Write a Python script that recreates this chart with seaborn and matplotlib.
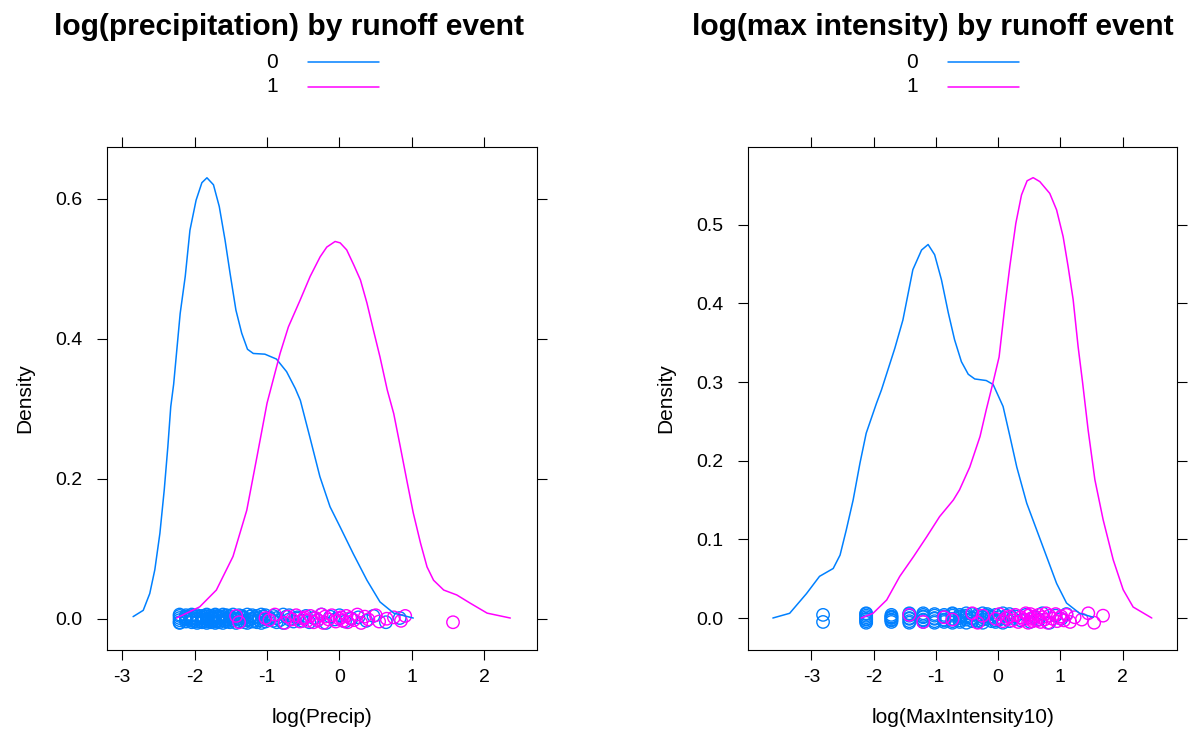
import numpy as np
import pandas as pd
import seaborn as sns
import matplotlib.pyplot as plt

# density curves (x, density)
precip0_x = [-2.85, -2.71, -2.62, -2.55, -2.48, -2.42, -2.37, -2.33, -2.29, -2.20, -2.13, -2.065, -1.98, -1.90,
             -1.83, -1.74, -1.66, -1.58, -1.51, -1.43, -1.35, -1.27, -1.19, -1.03, -0.87, -0.73, -0.61, -0.54,
             -0.41, -0.27, -0.13, 0.01, 0.19, 0.38, 0.56, 0.75, 1.02]
precip0_y = [0.003, 0.012, 0.036, 0.07, 0.122, 0.184, 0.246, 0.303, 0.335, 0.436, 0.489, 0.555, 0.598, 0.623,
             0.630, 0.620, 0.589, 0.541, 0.493, 0.441, 0.408, 0.385, 0.379, 0.378, 0.371, 0.353, 0.329, 0.312,
             0.26, 0.203, 0.16, 0.131, 0.093, 0.055, 0.024, 0.008, 0.001]
precip1_x = [-2.25, -1.93, -1.70, -1.47, -1.28, -1.14, -1.00, -0.82, -0.705, -0.544, -0.405, -0.267, -0.175,
             -0.06, 0.01, 0.10, 0.20, 0.29, 0.38, 0.47, 0.56, 0.66, 0.75, 0.84, 0.93, 1.02, 1.12, 1.21, 1.30,
             1.44, 1.62, 1.81, 2.04, 2.36]
precip1_y = [0.001, 0.017, 0.041, 0.089, 0.155, 0.231, 0.308, 0.379, 0.417, 0.455, 0.489, 0.517, 0.531,
             0.539, 0.537, 0.527, 0.505, 0.484, 0.451, 0.412, 0.374, 0.327, 0.293, 0.246, 0.198, 0.151, 0.108,
             0.074, 0.055, 0.041, 0.034, 0.022, 0.008, 0.001]
inten0_x = [-3.62, -3.35, -3.08, -2.87, -2.65, -2.54, -2.44, -2.33, -2.22, -2.12, -1.955, -1.875, -1.66, -1.53,
            -1.37, -1.23, -1.125, -1.02, -0.91, -0.80, -0.70, -0.59, -0.48, -0.375, -0.19, -0.08, 0.08, 0.19,
            0.30, 0.46, 0.62, 0.78, 0.94, 1.10, 1.31, 1.53]
inten0_y = [0.0, 0.006, 0.031, 0.053, 0.063, 0.08, 0.112, 0.15, 0.197, 0.235, 0.273, 0.290, 0.343, 0.379,
            0.443, 0.468, 0.475, 0.462, 0.430, 0.388, 0.354, 0.326, 0.310, 0.304, 0.302, 0.297, 0.269, 0.231,
            0.192, 0.146, 0.112, 0.078, 0.044, 0.019, 0.006, 0.001]
inten1_x = [-2.20, -2.01, -1.79, -1.58, -1.36, -1.15, -0.94, -0.72, -0.62, -0.455, -0.29, -0.19, -0.08, 0.016,
            0.108, 0.188, 0.285, 0.376, 0.466, 0.563, 0.67, 0.83, 0.94, 1.045, 1.125, 1.206, 1.286, 1.357,
            1.447, 1.555, 1.688, 1.85, 2.01, 2.17, 2.47]
inten1_y = [0.0, 0.006, 0.023, 0.053, 0.078, 0.103, 0.129, 0.150, 0.163, 0.192, 0.231, 0.265, 0.300, 0.332,
            0.396, 0.447, 0.502, 0.538, 0.556, 0.560, 0.555, 0.540, 0.519, 0.485, 0.447, 0.405, 0.345, 0.300,
            0.239, 0.176, 0.125, 0.074, 0.036, 0.014, 0.0]

# raw observations (rug points), plotted on log scale
precip0 = [0.11, 0.11, 0.11, 0.11, 0.11, 0.11, 0.12, 0.12, 0.12, 0.12, 0.12, 0.12,
           0.13, 0.13, 0.13, 0.13, 0.13, 0.13, 0.14, 0.14, 0.14, 0.14, 0.14, 0.14,
           0.15, 0.15, 0.15, 0.15, 0.15, 0.15, 0.16, 0.16, 0.16, 0.16, 0.16, 0.16, 0.16,
           0.17, 0.17, 0.17, 0.17, 0.17, 0.17, 0.18, 0.18, 0.18, 0.18, 0.18, 0.18,
           0.19, 0.19, 0.19, 0.19, 0.19, 0.20, 0.20, 0.20, 0.20, 0.20, 0.21, 0.21, 0.21, 0.21,
           0.22, 0.22, 0.22, 0.22, 0.23, 0.23, 0.23, 0.24, 0.24, 0.24, 0.25, 0.25, 0.25,
           0.26, 0.26, 0.26, 0.27, 0.27, 0.28, 0.28, 0.28, 0.29, 0.29, 0.30, 0.30, 0.30,
           0.31, 0.31, 0.32, 0.32, 0.33, 0.33, 0.34, 0.34, 0.35, 0.35, 0.36, 0.36, 0.38, 0.38,
           0.40, 0.40, 0.42, 0.42, 0.44, 0.46, 0.46, 0.48, 0.50, 0.50, 0.53, 0.56, 0.56, 0.60,
           0.63, 0.66, 0.70, 0.74, 0.78, 0.83, 0.88, 0.94, 1.00, 1.08, 1.18, 1.30, 1.45, 1.60, 1.90, 2.30]
precip1 = [0.24, 0.25, 0.36, 0.38, 0.41, 0.47, 0.49, 0.52, 0.55, 0.58, 0.61, 0.62, 0.64, 0.67, 0.70, 0.72,
           0.74, 0.78, 0.80, 0.82, 0.86, 0.90, 0.95, 1.00, 1.02, 1.05, 1.10, 1.12, 1.16, 1.22, 1.28, 1.35,
           1.42, 1.49, 1.65, 1.73, 1.92, 2.12, 2.34, 2.48, 4.80]
inten0 = [0.06, 0.06, 0.12, 0.12, 0.12, 0.12, 0.12, 0.12, 0.12, 0.12,
          0.18, 0.18, 0.18, 0.18, 0.18, 0.18, 0.18, 0.24, 0.24, 0.24, 0.24, 0.24, 0.24, 0.24,
          0.30, 0.30, 0.30, 0.30, 0.30, 0.30, 0.30, 0.36, 0.36, 0.36, 0.36, 0.36, 0.36,
          0.42, 0.42, 0.42, 0.42, 0.42, 0.42, 0.48, 0.48, 0.48, 0.48, 0.48, 0.48,
          0.54, 0.54, 0.54, 0.54, 0.54, 0.60, 0.60, 0.60, 0.60, 0.60, 0.66, 0.66, 0.66, 0.66,
          0.72, 0.72, 0.72, 0.72, 0.78, 0.78, 0.78, 0.78, 0.84, 0.84, 0.84, 0.90, 0.90, 0.90,
          0.96, 0.96, 0.96, 1.02, 1.02, 1.08, 1.08, 1.14, 1.14, 1.20, 1.20, 1.26, 1.32, 1.44,
          1.56, 1.68, 1.80, 1.92, 2.04, 2.28, 2.52, 2.76, 3.00]
inten1 = [0.24, 0.30, 0.42, 0.48, 0.66, 0.72, 0.78, 0.96, 1.02, 1.08, 1.14, 1.20, 1.26, 1.32, 1.38, 1.44,
          1.50, 1.56, 1.62, 1.62, 1.68, 1.68, 1.74, 1.74, 1.80, 1.86, 1.92, 1.98, 2.04, 2.10, 2.16, 2.22,
          2.28, 2.40, 2.52, 2.58, 2.70, 2.76, 2.88, 3.00, 3.18, 3.42, 3.84, 4.26, 4.68, 5.40]

groups = ["0", "1"]
colors = {"0": "#0080ff", "1": "#ff00ff"}
# fixed vertical jitter pattern for the rug points
jitter = [0.004, -0.005, 0.001, -0.002, 0.006, -0.006, 0.003, -0.001, 0.005, -0.004, 0.0, 0.002, -0.003]

sns.set_style("ticks")
plt.rcParams['font.family'] = ['Liberation Sans', 'DejaVu Sans']
plt.rcParams['text.color'] = 'black'
plt.rcParams['axes.labelcolor'] = 'black'

fig = plt.figure(figsize=(11.88, 7.39), dpi=100)
ax1 = fig.add_axes([0.0901, 0.1204, 0.3620, 0.6807])
ax2 = fig.add_axes([0.6296, 0.1204, 0.3614, 0.6807])


def draw_panel(ax, curves, points, xlim, ylim, yticks, xlabel, title, title_x, legend_x):
    for g in groups:
        cx, cy = curves[g]
        vals = np.log(np.array(points[g]))
        jy = [jitter[i % len(jitter)] for i in range(len(vals))]
        sns.lineplot(x=cx, y=cy, ax=ax, color=colors[g], linewidth=1.1, sort=False, estimator=None)
        sns.scatterplot(x=vals, y=jy, ax=ax, s=80, facecolor="none", edgecolor=colors[g], linewidth=1.0)
    ax.set_xlim(*xlim)
    ax.set_ylim(*ylim)
    ax.set_xticks(range(-3, 3))
    ax.set_xticklabels([str(t) for t in range(-3, 3)])
    ax.set_yticks(yticks)
    ax.set_yticklabels(["%.1f" % t for t in yticks])
    ax.tick_params(direction="out", length=7.5, width=0.8, top=True, right=True,
                   labeltop=False, labelright=False, labelsize=14, colors="black")
    ax.tick_params(axis="x", pad=6)
    ax.tick_params(axis="y", pad=10)
    for s in ax.spines.values():
        s.set_visible(True)
        s.set_color("black")
        s.set_linewidth(0.8)
    ax.set_xlabel(xlabel, fontsize=15, labelpad=16)
    ax.set_ylabel("Density", fontsize=15, labelpad=15)
    fig.text(title_x, 1 - 27 / 739, title, ha="center", va="center", fontsize=21.6, fontweight="bold")
    for i, g in enumerate(groups):
        yy = 1 - (62 + 25 * i) / 739
        fig.text(legend_x / 1188, yy, g, ha="center", va="center", fontsize=15)
        fig.lines.append(plt.Line2D([(legend_x + 36) / 1188, (legend_x + 107) / 1188], [yy, yy],
                                    transform=fig.transFigure, color=colors[g], linewidth=1.1))


draw_panel(ax1, {"0": (precip0_x, precip0_y), "1": (precip1_x, precip1_y)},
           {"0": precip0, "1": precip1}, (-3.21, 2.73), (-0.0447, 0.674), [0.0, 0.2, 0.4, 0.6],
           "log(Precip)", "log(precipitation) by runoff event", 289 / 1188, 272)
draw_panel(ax2, {"0": (inten0_x, inten0_y), "1": (inten1_x, inten1_y)},
           {"0": inten0, "1": inten1}, (-4.02, 2.88), (-0.0407, 0.599), [0.0, 0.1, 0.2, 0.3, 0.4, 0.5],
           "log(MaxIntensity10)", "log(max intensity) by runoff event", 933 / 1188, 912)

fig.savefig("out.png", dpi=100)
